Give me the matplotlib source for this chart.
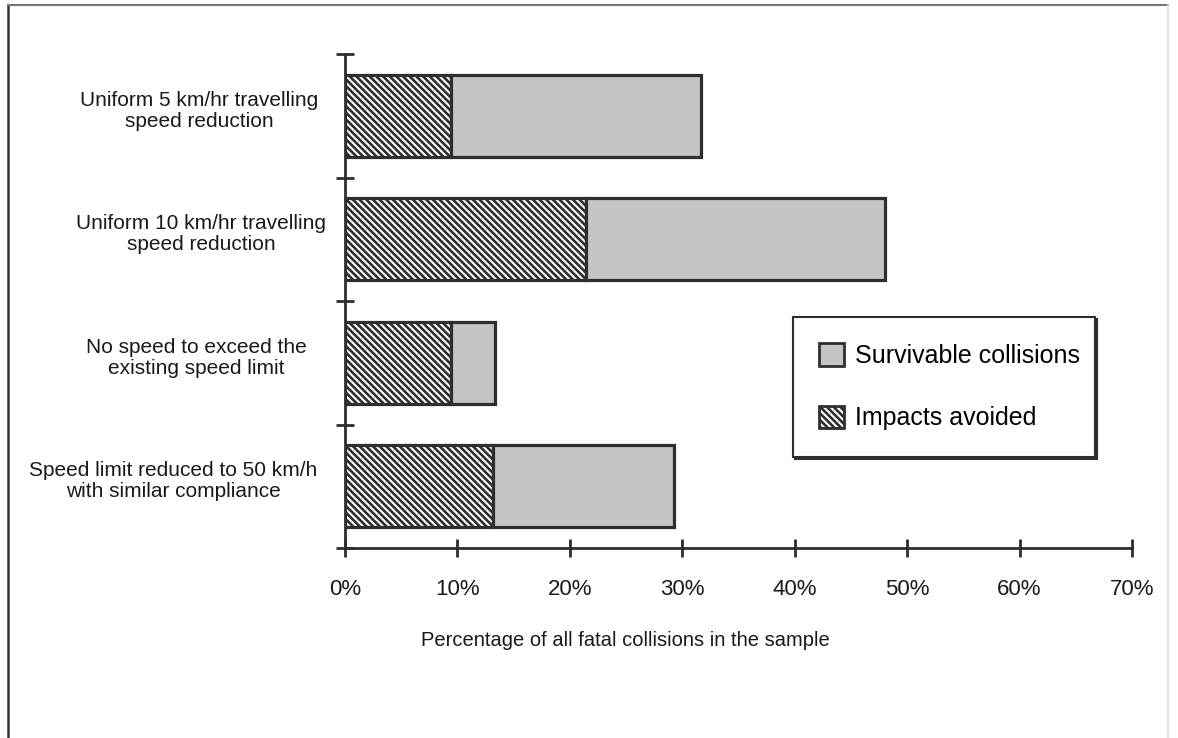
import numpy as np
import matplotlib
matplotlib.use('Agg')
import matplotlib.pyplot as plt
from matplotlib.lines import Line2D
from matplotlib.patches import Patch

plt.rcParams['font.family'] = ['Liberation Sans', 'DejaVu Sans']
plt.rcParams['hatch.linewidth'] = 1.9

# data (percent of all fatal collisions)
categories = [
    "Uniform 5 km/hr travelling\nspeed reduction",
    "Uniform 10 km/hr travelling\nspeed reduction",
    "No speed to exceed the\nexisting speed limit",
    "Speed limit reduced to 50 km/h\nwith similar compliance",
]
impacts_avoided = [9.4, 21.4, 9.4, 13.2]
survivable = [22.3, 26.6, 3.9, 16.1]
xticks = [0, 10, 20, 30, 40, 50, 60, 70]
xtick_labels = ['%d%%' % t for t in xticks]

dark = '#2e2e2e'
grey = '#c4c4c4'
hatch = '\\\\\\\\\\'

fig = plt.figure(figsize=(11.78, 7.38), dpi=100)
ax = fig.add_axes([345 / 1178, (738 - 548) / 738, 787 / 1178, 494 / 738])

y = np.arange(len(categories))
ax.barh(y, impacts_avoided, height=0.66, color='white', edgecolor=dark,
        linewidth=2.3, hatch=hatch, label='Impacts avoided', zorder=3)
ax.barh(y, survivable, left=impacts_avoided, height=0.66, color=grey,
        edgecolor=dark, linewidth=2.3, label='Survivable collisions', zorder=3)

ax.set_xlim(0, 70)
ax.set_ylim(len(categories) - 0.5, -0.5)

for s in ['top', 'right']:
    ax.spines[s].set_visible(False)
for s in ['left', 'bottom']:
    ax.spines[s].set_color(dark)
    ax.spines[s].set_linewidth(2)

ax.set_xticks(xticks)
ax.set_xticklabels(xtick_labels, fontsize=16, color='#1a1a1a')
ax.tick_params(axis='x', direction='inout', length=13, width=2, color=dark, pad=16)

# category boundaries get the tick marks, labels sit at bar centres
ax.set_yticks(y)
ax.set_yticklabels([])
ax.tick_params(axis='y', which='major', length=0)
ax.set_yticks(np.arange(-0.5, len(categories), 1.0), minor=True)
ax.tick_params(axis='y', which='minor', direction='inout', length=13, width=2, color=dark)

label_x = [-0.1855, -0.183, -0.189, -0.2186]
for yi, (lab, lx) in enumerate(zip(categories, label_x)):
    ax.text(lx, yi - 0.04, lab, transform=ax.get_yaxis_transform(), ha='center',
            va='center', fontsize=15, linespacing=1.15, color='#1a1a1a')

ax.set_xlabel('Percentage of all fatal collisions in the sample', fontsize=14.5,
              color='#1a1a1a')
ax.xaxis.set_label_coords(0.356, -0.168)

handles = [Patch(facecolor=grey, edgecolor=dark, linewidth=2),
           Patch(facecolor='white', edgecolor=dark, linewidth=2, hatch=hatch)]
leg = ax.legend(handles, ['Survivable collisions', 'Impacts avoided'],
                loc='upper left', bbox_to_anchor=(0.569, 0.4676, 0.384, 0),
                mode='expand', borderaxespad=0, fontsize=18, handlelength=1.0,
                handleheight=1.0, handletextpad=0.45, labelspacing=1.5,
                borderpad=1.05, fancybox=False, framealpha=1,
                shadow={'facecolor': dark, 'edgecolor': dark, 'alpha': 1,
                        'ox': 1.5, 'oy': -1.5})
leg.get_frame().set_edgecolor(dark)
leg.get_frame().set_linewidth(1.5)

# page frame around the figure
fig.add_artist(Line2D([8 / 1178, 8 / 1178], [0, 1 - 5 / 738], transform=fig.transFigure,
                      color='#333333', lw=1.8))
fig.add_artist(Line2D([8 / 1178, 1168 / 1178], [1 - 5 / 738, 1 - 5 / 738],
                      transform=fig.transFigure, color='#777777', lw=1.5))
fig.add_artist(Line2D([1168 / 1178, 1168 / 1178], [0, 1 - 5 / 738],
                      transform=fig.transFigure, color='#dddddd', lw=1.2))

fig.savefig('out.png', dpi=100)
